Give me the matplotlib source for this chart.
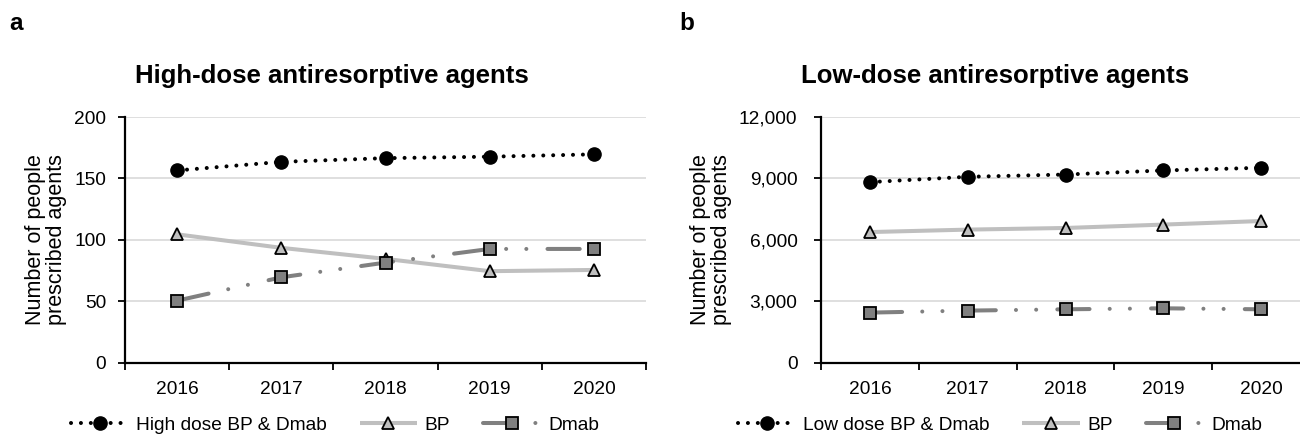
import matplotlib
matplotlib.use("Agg")
import matplotlib.pyplot as plt
from matplotlib.ticker import FuncFormatter, FixedLocator
import numpy as np

plt.rcParams['font.family'] = ['Liberation Sans', 'DejaVu Sans']

years = ['2016', '2017', '2018', '2019', '2020']

high_combined = [156.5, 163.5, 166.5, 167.7, 169.6]
high_bp = [104.5, 93.5, 84.5, 74.5, 75.5]
high_dmab = [50.5, 69.5, 81.5, 92.6, 92.6]

low_combined = [8820, 9080, 9190, 9390, 9520]
low_bp = [6380, 6500, 6580, 6745, 6920]
low_dmab = [2446, 2544, 2608, 2657, 2608]

panels = [
    dict(letter='a', title='High-dose antiresorptive agents',
         combined=high_combined, bp=high_bp, dmab=high_dmab,
         combined_label='High dose BP & Dmab',
         yticks=[0, 50, 100, 150, 200], ylim=(0, 200)),
    dict(letter='b', title='Low-dose antiresorptive agents',
         combined=low_combined, bp=low_bp, dmab=low_dmab,
         combined_label='Low dose BP & Dmab',
         yticks=[0, 3000, 6000, 9000, 12000], ylim=(0, 12000)),
]

W, H = 1300, 436
fig = plt.figure(figsize=(W / 100, H / 100), dpi=100)

# layout in pixels
ax_boxes = [(125, 646), (821, 1310)]
ax_top, ax_bot = 117, 362.7
title_cx = [331.5, 995.5]
letter_x = [9, 679]
legend_cx = [335, 1000]
ylabel_right = [67, 732]
ytick_pad = [8.6, 12]

FS = 13.8
dot_col = 'black'
bp_col = '#bfbfbf'
dmab_col = '#808080'
lw = 2.9

dmab_dash = (0, (8, 5, 0.01, 5, 0.01, 5.25))
dot_dash = (0, (0.01, 2.45))

for i, p in enumerate(panels):
    x0, x1 = ax_boxes[i]
    ax = fig.add_axes([x0 / W, 1 - ax_bot / H, (x1 - x0) / W, (ax_bot - ax_top) / H])
    x = np.arange(len(years))

    l1, = ax.plot(x, p['combined'], color=dot_col, lw=lw, linestyle=dot_dash,
                  dash_capstyle='round', marker='o', markersize=9.5,
                  markerfacecolor='black', markeredgecolor='black',
                  label=p['combined_label'], zorder=3)
    l2, = ax.plot(x, p['bp'], color=bp_col, lw=lw, solid_capstyle='butt',
                  marker='^', markersize=8.5, markerfacecolor=bp_col,
                  markeredgecolor='black', markeredgewidth=1.3,
                  label='BP', zorder=4)
    l3, = ax.plot(x, p['dmab'], color=dmab_col, lw=lw, linestyle=dmab_dash,
                  dash_capstyle='round', marker='s', markersize=8,
                  markerfacecolor=dmab_col, markeredgecolor='black',
                  markeredgewidth=1.3, label='Dmab', zorder=5)

    ax.set_xlim(-0.5, len(years) - 0.5)
    ax.set_ylim(*p['ylim'])
    ax.set_xticks(x)
    ax.set_xticklabels(years, fontsize=FS)
    ax.tick_params(axis='x', which='major', length=0, pad=13)
    ax.xaxis.set_minor_locator(FixedLocator(np.arange(-0.5, len(years), 1.0)))
    ax.tick_params(axis='x', which='minor', length=5, width=1.3, color='black', direction='out')

    ax.set_yticks(p['yticks'])
    ax.yaxis.set_major_formatter(FuncFormatter(lambda v, _: f'{int(v):,}'))
    ax.tick_params(axis='y', length=5, width=1.3, color='black', direction='out',
                   labelsize=FS, pad=ytick_pad[i])
    ax.grid(axis='y', color='#d9d9d9', lw=1.2)
    ax.set_axisbelow(True)
    for s in ['top', 'right']:
        ax.spines[s].set_visible(False)
    for s in ['left', 'bottom']:
        ax.spines[s].set_linewidth(1.6)
        ax.spines[s].set_color('black')
        ax.spines[s].set_zorder(6)

    ax.set_ylabel('Number of people\nprescribed agents', fontsize=15.5, linespacing=1.0)
    ax.yaxis.set_label_coords((ylabel_right[i] - x0) / (x1 - x0), 0.5)

    fig.text(title_cx[i] / W, 1 - 76 / H, p['title'], fontsize=18.5, fontweight='bold',
             ha='center', va='center')
    fig.text(letter_x[i] / W, 1 - 24 / H, p['letter'], fontsize=17.5, fontweight='bold',
             ha='left', va='center')

    fig.legend(handles=[l1, l2, l3], loc='center',
               bbox_to_anchor=(legend_cx[i] / W, 1 - 425 / H),
               ncol=3, frameon=False, fontsize=FS, handlelength=3.0,
               handletextpad=0.4, columnspacing=1.7, numpoints=1,
               borderpad=0, borderaxespad=0)

fig.savefig('out.png', dpi=100)
